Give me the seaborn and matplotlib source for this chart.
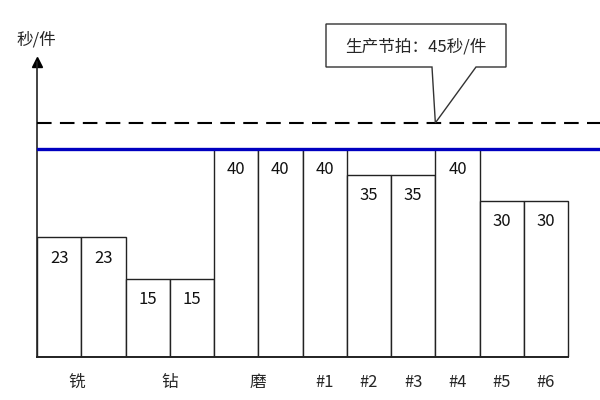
import matplotlib
matplotlib.use("Agg")
import matplotlib.pyplot as plt
import seaborn as sns
import pandas as pd
from matplotlib.patches import Polygon

# data
bar_ids = ["铣1", "铣2", "钻1", "钻2", "磨1", "磨2", "#1", "#2", "#3", "#4", "#5", "#6"]
cycle_times = [23, 23, 15, 15, 40, 40, 40, 35, 35, 40, 30, 30]
group_labels = ["铣", "钻", "磨", "#1", "#2", "#3", "#4", "#5", "#6"]
group_pos = [0.4, 2.5, 4.5, 6, 7, 8, 9, 10, 11]
bottleneck = 40
takt = 45
takt_text = "生产节拍：45秒/件"
y_label = "秒/件"

df = pd.DataFrame({"station": bar_ids, "time": cycle_times})

sns.set_theme(style="white")
plt.rcParams["font.family"] = ["Noto Sans CJK SC", "DejaVu Sans"]

fig = plt.figure(figsize=(6, 4), dpi=100)
ax = fig.add_axes([37 / 600, 43 / 400, 563 / 600, 295 / 400])

sns.barplot(data=df, x="station", y="time", order=bar_ids, width=1.0,
            color="white", edgecolor="#222222", linewidth=1.0, ax=ax,
            saturation=1, errorbar=None)

ax.set_xlim(-0.5, 12.22)
ax.set_ylim(0, 56.7)

# value labels inside the bars
for i, v in enumerate(cycle_times):
    ax.annotate(str(v), xy=(i, v), xytext=(0, -15), textcoords="offset points",
                ha="center", va="center", fontsize=12, color="#111111")

# bottleneck line and takt line
ax.axhline(bottleneck, color="#0000c0", lw=2.4, zorder=3)
ax.axhline(takt, color="black", lw=1.5, dashes=(7, 4), zorder=3)

# axes styling
for side in ["top", "right"]:
    ax.spines[side].set_visible(False)
ax.spines["left"].set_color("#222222")
ax.spines["left"].set_linewidth(1.2)
ax.spines["bottom"].set_color("#222222")
ax.spines["bottom"].set_linewidth(1.4)
ax.spines["bottom"].set_bounds(-0.5, 11.5)
ax.set_yticks([])
ax.set_xticks(group_pos, group_labels, fontsize=12)
ax.tick_params(axis="x", length=0, pad=12)
ax.set_xlabel("")
ax.set_ylabel("")

# arrow on top of the y axis
ax.plot(0, 1, marker="^", color="black", ms=7, transform=ax.transAxes, clip_on=False)
fig.text(36 / 600, 1 - 40 / 400, y_label, ha="center", va="center", fontsize=12)

# callout box pointing at the takt line
tip = fig.transFigure.inverted().transform(ax.transData.transform((8.5, takt)))
left, right = 326 / 600, 506 / 600
top, bottom = 1 - 24 / 400, 1 - 67 / 400
verts = [(left, top), (right, top), (right, bottom), (476 / 600, bottom),
         (tip[0], tip[1]), (432 / 600, bottom), (left, bottom)]
fig.patches.append(Polygon(verts, closed=True, facecolor="white", edgecolor="#333333",
                           lw=1.0, transform=fig.transFigure, zorder=5))
fig.text((left + right) / 2, 1 - 47 / 400, takt_text, ha="center", va="center",
         fontsize=12, zorder=6)

fig.savefig("out.png", dpi=100, facecolor="white")
